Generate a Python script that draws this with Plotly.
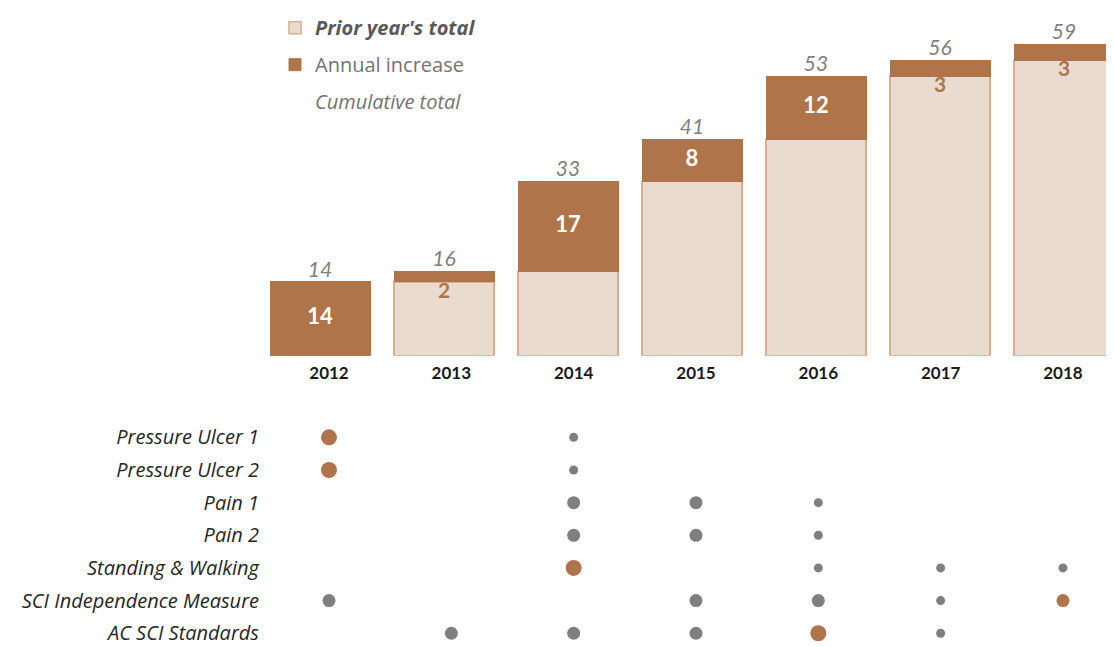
import plotly.graph_objects as go

# ---------------- data ----------------
years = ["2012", "2013", "2014", "2015", "2016", "2017", "2018"]
cumulative_total = [14, 16, 33, 41, 53, 56, 59]
annual_increase = [14, 2, 17, 8, 12, 3, 3]
prior_total = [0, 14, 16, 33, 41, 53, 56]

measures = [
    "Pressure Ulcer 1",
    "Pressure Ulcer 2",
    "Pain 1",
    "Pain 2",
    "Standing & Walking",
    "SCI Independence Measure",
    "AC SCI Standards",
]
# status per measure per year: N = new (large brown), U = update (brown),
# A = active (grey), S = minor (small grey), "" = none
status = [
    ["N", "", "S", "", "", "", ""],
    ["N", "", "S", "", "", "", ""],
    ["", "", "A", "A", "S", "", ""],
    ["", "", "A", "A", "S", "", ""],
    ["", "", "N", "", "S", "S", "S"],
    ["A", "", "", "A", "A", "S", "U"],
    ["", "A", "A", "A", "N", "S", ""],
]

# ---------------- styles ----------------
BROWN = "#B0744A"
LIGHT = "#EADBD0"
LIGHT_LINE = "#D9AD8F"
GREY = "#7F7F7F"
FONT = "Lato"
FONT2 = "Open Sans"
dot_style = {
    "N": (BROWN, 16),
    "U": (BROWN, 13),
    "A": (GREY, 13),
    "S": (GREY, 9),
}

OFF = 8                     # page body margin
W, H = 1114 - OFF, 647 - OFF

fig = go.Figure()

# stacked bars
fig.add_trace(go.Bar(
    x=years, y=[v if v else None for v in prior_total],
    name="<b><i><span style='color:#595959'>Prior year's total</span></i></b>",
    marker=dict(color=LIGHT, line=dict(color=LIGHT_LINE, width=1.5)),
    legendgroup="a", hoverinfo="skip",
))
fig.add_trace(go.Bar(
    x=years, y=annual_increase,
    name="Annual increase",
    marker=dict(color=BROWN, line=dict(color=BROWN, width=1)),
    legendgroup="b", hoverinfo="skip",
))
# legend-only entry for cumulative total labels
fig.add_trace(go.Scatter(
    x=[None], y=[None], mode="markers",
    marker=dict(color="rgba(0,0,0,0)", size=1),
    name="<i>Cumulative total</i>", legendgroup="c",
))

# cumulative total labels
fig.add_trace(go.Scatter(
    x=years, y=cumulative_total, mode="text",
    text=[str(v) for v in cumulative_total], textposition="top center",
    textfont=dict(family=FONT, size=21, color=GREY, style="italic"),
    showlegend=False, hoverinfo="skip",
))

# increase labels
big_x, big_y, big_t, small_x, small_y, small_t = [], [], [], [], [], []
for yr, p, inc in zip(years, prior_total, annual_increase):
    if inc >= 5:
        big_x.append(yr); big_y.append(p + inc / 2); big_t.append(str(inc))
    else:
        small_x.append(yr); small_y.append(p); small_t.append(str(inc))
fig.add_trace(go.Scatter(
    x=big_x, y=big_y, mode="text", text=big_t, textposition="middle center",
    textfont=dict(family=FONT, size=22, color="white", weight="bold"),
    showlegend=False, hoverinfo="skip",
))
fig.add_trace(go.Scatter(
    x=small_x, y=small_y, mode="text", text=small_t, textposition="bottom center",
    textfont=dict(family=FONT, size=21, color=BROWN, weight="bold"),
    showlegend=False, hoverinfo="skip",
))

# dot matrix
dx, dy, dc, ds = [], [], [], []
for m, row in zip(measures, status):
    for yr, code in zip(years, row):
        if code:
            c, s = dot_style[code]
            dx.append(yr); dy.append(m); dc.append(c); ds.append(s)
fig.add_trace(go.Scatter(
    x=dx, y=dy, mode="markers", xaxis="x2", yaxis="y2",
    marker=dict(color=dc, size=ds, opacity=1, line=dict(width=0)),
    showlegend=False, hoverinfo="skip",
))

# ---------------- layout (pixel targets in figure coordinates) ----------------
bar_c0, bar_step = 320 - OFF, 124
dot_c0, dot_step = 329 - OFF, 122.33
base_px, px_per_unit = 351 - OFF, 5.357
row0_px, row_step = 434 - OFF, 33.17
x2_left = 252
y2_top = 371

fig.update_layout(
    width=W, height=H,
    margin=dict(l=0, r=0, t=0, b=0),
    paper_bgcolor="white", plot_bgcolor="white",
    barmode="stack", bargap=1 - 100 / 124,
    font=dict(family=FONT, color="#404040"),
    showlegend=True,
    legend=dict(
        x=267 / W, y=1 + 10 / H, xanchor="left", yanchor="top",
        traceorder="grouped", tracegroupgap=8,
        font=dict(family=FONT2, size=20, color="#737373"),
        bgcolor="rgba(0,0,0,0)",
    ),
    xaxis=dict(
        domain=[0, 1], type="category", categoryorder="array", categoryarray=years,
        range=[-bar_c0 / bar_step, (W - bar_c0) / bar_step],
        showticklabels=False, showgrid=False, zeroline=False, showline=False,
        anchor="y", fixedrange=True,
    ),
    yaxis=dict(
        domain=[1 - base_px / H, 1],
        range=[0, base_px / px_per_unit],
        showticklabels=False, showgrid=False, zeroline=False, showline=False,
        anchor="x",
    ),
    xaxis2=dict(
        domain=[x2_left / W, 1], type="category", categoryorder="array", categoryarray=years,
        range=[(x2_left - dot_c0) / dot_step, (W - dot_c0) / dot_step],
        side="top", anchor="y2",
        tickfont=dict(family=FONT, size=17, color="#1A1A1A", weight="bold"),
        showgrid=False, zeroline=False, showline=False, ticks="",
    ),
    yaxis2=dict(
        domain=[0, 1 - y2_top / H], type="category", categoryorder="array",
        categoryarray=measures,
        range=[(H - row0_px) / row_step, (y2_top - row0_px) / row_step],
        anchor="x2",
        tickfont=dict(family=FONT2, size=20, color="#262626", style="italic"),
        showgrid=False, zeroline=False, showline=False, ticks="",
    ),
)

fig.write_html("out.html")
